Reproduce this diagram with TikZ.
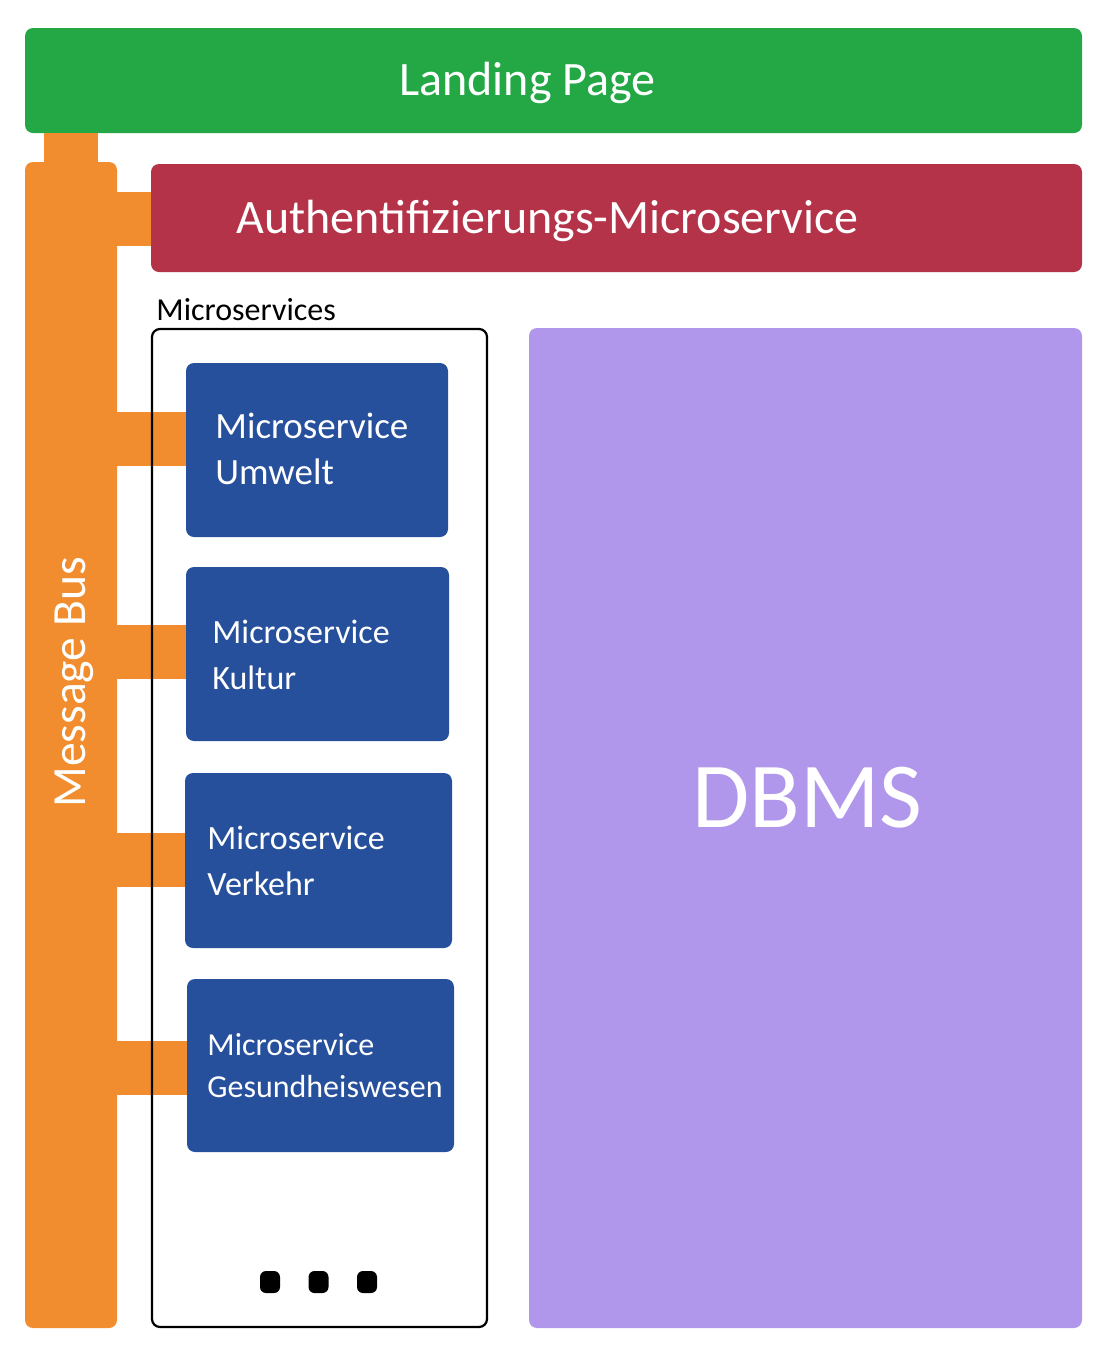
\documentclass[tikz,border=0pt]{standalone}
\usepackage{fontspec}
\setmainfont{Carlito}
\usetikzlibrary{fit}
\definecolor{lgreen}{RGB}{35,168,69}
\definecolor{borange}{RGB}{241,141,46}
\definecolor{authred}{RGB}{181,51,73}
\definecolor{msblue}{RGB}{39,80,156}
\definecolor{dbpurple}{RGB}{177,151,235}
\begin{document}
\begin{tikzpicture}[x=0.5pt,y=-0.5pt,
  block/.style={inner sep=0pt, rounded corners=4pt, draw=none},
  msbox/.style={block, fill=msblue},
  conn/.style={draw=borange, line width=27pt, line cap=butt},
  wtext/.style={text=white, inner sep=0pt},
  mstext/.style={wtext, anchor=base west, align=left},
  dotbox/.style={fill=black, rounded corners=3pt, minimum width=10pt, minimum height=11pt, inner sep=0pt}
]
\useasboundingbox (0,0) rectangle (1100,1350);
% blocks
\node[block, fill=lgreen, fit={(25,28)(1082,133)}] (landing) {};
\node[block, fill=borange, fit={(25,162)(117,1328)}] (bus) {};
\node[block, fill=authred, fit={(151,164)(1082,272)}] (auth) {};
\node[block, fill=dbpurple, fit={(529,328)(1082,1328)}] (dbms) {};
% connectors
\coordinate (stemx) at (71,0);
\draw[conn] (landing.south -| stemx) -- (bus.north -| stemx);
\coordinate (c0) at (0,219);
\coordinate (c1) at (0,439);
\coordinate (c2) at (0,652);
\coordinate (c3) at (0,859.5);
\coordinate (c4) at (0,1068);
\draw[conn] ([xshift=-2pt]bus.east |- c0) -- (auth.west |- c0);
\coordinate (msleft) at (190,0);
\draw[conn] ([xshift=-2pt]bus.east |- c1) -- (msleft |- c1);
\draw[conn] ([xshift=-2pt]bus.east |- c2) -- (msleft |- c2);
\draw[conn] ([xshift=-2pt]bus.east |- c3) -- (msleft |- c3);
\draw[conn] ([xshift=-2pt]bus.east |- c4) -- (msleft |- c4);
% microservices container
\node[draw=black, line width=1.1pt, rounded corners=4pt, inner sep=0pt, fit={(152,329)(487,1327)}] (container) {};
\node[anchor=base west, inner sep=0pt, font=\fontsize{16}{19}\selectfont] (contlabel) at (156,320) {Microservices};
% microservice boxes
\node[msbox, fit={(186,363)(448,537)}] (ms1) {};
\node[msbox, fit={(186,567)(449,741)}] (ms2) {};
\node[msbox, fit={(185,773)(452,948)}] (ms3) {};
\node[msbox, fit={(187,979)(454,1152)}] (ms4) {};
\node[mstext, font=\fontsize{18.5}{23}\selectfont] (t1) at (215,484) {Microservice\\Umwelt};
\node[mstext, font=\fontsize{17}{23}\selectfont] (t2) at (212,689) {Microservice\\Kultur};
\node[mstext, font=\fontsize{17}{23}\selectfont] (t3) at (207,895) {Microservice\\Verkehr};
\node[mstext, font=\fontsize{16}{21}\selectfont] (t4) at (207,1097) {Microservice\\Gesundheiswesen};
% dots
\node[dotbox] (d1) at (270,1282) {};
\node[dotbox] (d2) at (318.5,1282) {};
\node[dotbox] (d3) at (367,1282) {};
% labels
\node[wtext, anchor=base west, font=\fontsize{24}{28}\selectfont] (landingtext) at (399,95) {Landing Page};
\node[wtext, anchor=base west, font=\fontsize{24}{28}\selectfont] (authtext) at (236,233) {Authentifizierungs-Microservice};
\node[wtext, anchor=base west, font=\fontsize{46.5}{52}\selectfont] (dbmstext) at (692,827) {DBMS};
\node[wtext, anchor=base west, rotate=90, font=\fontsize{23.8}{28}\selectfont] (bustext) at (85,808) {Message Bus};
\end{tikzpicture}
\end{document}
